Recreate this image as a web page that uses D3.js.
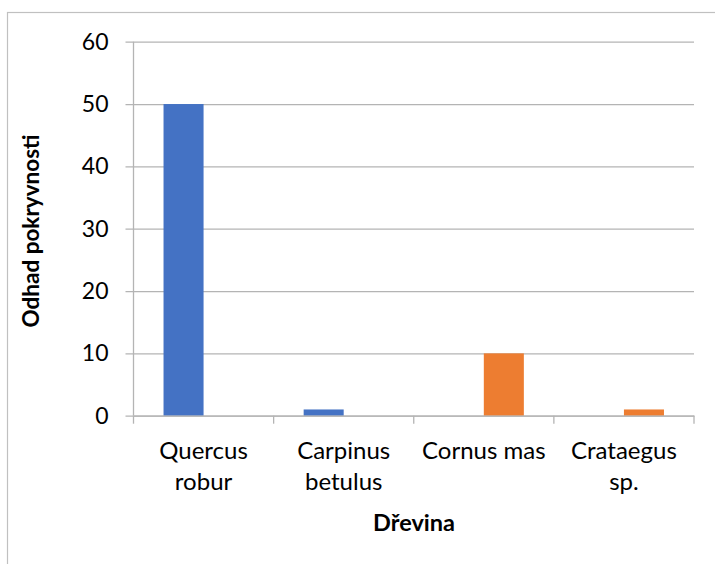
<!DOCTYPE html>
<html><head><meta charset="utf-8">
<script src="https://cdn.jsdelivr.net/npm/d3@7"></script>
<style>html,body{margin:0;padding:0;background:#fff;}svg{display:block;}</style>
</head><body>
<script>
const categories = [["Quercus","robur"],["Carpinus","betulus"],["Cornus mas"],["Crataegus","sp."]];
const seriesA = [50, 1, 0, 0];   // blue
const seriesB = [0, 0, 10, 1];   // orange
const yTicks = [0, 10, 20, 30, 40, 50, 60];
const yTitle = "Odhad pokryvnosti";
const xTitle = "Dřevina";

const W = 715, H = 564;
const svg = d3.select("body").append("svg").attr("width", W).attr("height", H);
const font = "Lato, 'Noto Sans', sans-serif";

svg.append("rect").attr("x", 7.5).attr("y", 12.5).attr("width", 760).attr("height", 600)
  .attr("fill", "#fff").attr("stroke", "#c0c0c0").attr("stroke-width", 1.2);

const x0 = 133.5, x1 = 694, yTop = 41.7, yBot = 415.7;
const keys = categories.map((c, i) => i);
const x = d3.scaleBand().domain(keys).range([x0, x1]).paddingInner(0).paddingOuter(0);
const xs = d3.scaleBand().domain(["a", "b"]).range([0, x.bandwidth()]).paddingInner(0).paddingOuter(0.75);
const y = d3.scaleLinear().domain([0, 60]).range([yBot, yTop]);

// gridlines
const yAxis = d3.axisLeft(y).tickValues(yTicks).tickSize(-(x1 - x0)).tickPadding(25).tickFormat(d3.format("d"));
const gy = svg.append("g").attr("transform", `translate(${x0},0)`).call(yAxis);
gy.select(".domain").remove();
gy.selectAll(".tick line").attr("stroke", "#b4b4b4").attr("stroke-width", 1.3).attr("x1", -8);
gy.selectAll(".tick text").attr("font-family", font).attr("font-size", 23).attr("fill", "#000");

// bars
const data = keys.map(i => ({i, a: seriesA[i], b: seriesB[i]}));
const grp = svg.append("g");
grp.selectAll("rect.a").data(data).join("rect")
  .attr("x", d => x(d.i) + xs("a")).attr("width", xs.bandwidth())
  .attr("y", d => y(d.a)).attr("height", d => y(0) - y(d.a)).attr("fill", "#4472C4");
grp.selectAll("rect.b").data(data).join("rect")
  .attr("x", d => x(d.i) + xs("b")).attr("width", xs.bandwidth())
  .attr("y", d => y(d.b)).attr("height", d => y(0) - y(d.b)).attr("fill", "#ED7D31");

// y axis line
svg.append("line").attr("x1", x0).attr("x2", x0).attr("y1", yTop).attr("y2", yBot)
  .attr("stroke", "#b4b4b4").attr("stroke-width", 1.3);

// x axis
const xAxis = d3.axisBottom(x).tickSize(0).tickFormat("");
const gx = svg.append("g").attr("transform", `translate(0,${yBot})`).call(xAxis);
gx.select(".domain").attr("stroke", "#b4b4b4").attr("stroke-width", 1.3);
const bounds = keys.map(i => x(i)).concat([x1]);
gx.selectAll("line.bt").data(bounds).join("line").attr("class", "bt")
  .attr("x1", d => d).attr("x2", d => d).attr("y1", 0).attr("y2", 8)
  .attr("stroke", "#b4b4b4").attr("stroke-width", 1.3);

// category labels
const lab = svg.append("g");
categories.forEach((lines, i) => {
  const t = lab.append("text").attr("x", x(i) + x.bandwidth() / 2).attr("y", 459)
    .attr("text-anchor", "middle").attr("font-family", font).attr("font-size", 24).attr("fill", "#000");
  lines.forEach((l, j) => t.append("tspan").attr("x", x(i) + x.bandwidth() / 2).attr("dy", j ? 31 : 0).text(l));
});

// titles
svg.append("text").attr("transform", `translate(39,${231}) rotate(-90)`)
  .attr("text-anchor", "middle").attr("font-family", font).attr("font-size", 22.5).attr("font-weight", "bold")
  .text(yTitle);
svg.append("text").attr("x", 414).attr("y", 531).attr("text-anchor", "middle")
  .attr("font-family", font).attr("font-size", 23.5).attr("font-weight", "bold").text(xTitle);
</script>
</body></html>
